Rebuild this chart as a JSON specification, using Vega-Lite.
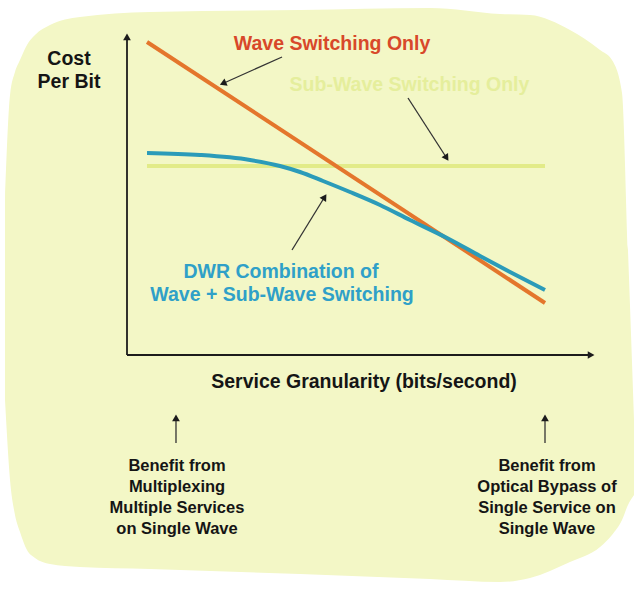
{
  "$schema": "https://vega.github.io/schema/vega-lite/v6.json",
  "width": 640,
  "height": 589,
  "autosize": {"type": "fit", "contains": "padding"},
  "padding": 0,
  "background": "#ffffff",
  "config": {"view": {"stroke": null}},
  "datasets": {
    "blob": [
      {"x": -26.52, "y": 48.44, "y2": -14.06},
      {"x": -25.43, "y": 81.25, "y2": -39.06},
      {"x": -24.35, "y": 88.44, "y2": -50.0},
      {"x": -23.26, "y": 92.19, "y2": -55.31},
      {"x": -21.74, "y": 96.88, "y2": -60.94},
      {"x": -20.0, "y": 100.0, "y2": -63.44},
      {"x": -16.74, "y": 103.13, "y2": -65.31},
      {"x": -10.22, "y": 105.63, "y2": -66.25},
      {"x": 5.0, "y": 107.19, "y2": -66.88},
      {"x": 37.61, "y": 107.81, "y2": -68.44},
      {"x": 65.87, "y": 108.44, "y2": -70.0},
      {"x": 81.09, "y": 106.56, "y2": -70.94},
      {"x": 87.61, "y": 106.25, "y2": -69.69},
      {"x": 96.3, "y": 101.56, "y2": -64.69},
      {"x": 102.83, "y": 95.31, "y2": -60.0},
      {"x": 105.43, "y": 92.19, "y2": -56.25},
      {"x": 107.61, "y": 81.88, "y2": -51.56},
      {"x": 108.91, "y": 32.81, "y2": -46.88},
      {"x": 110.22, "y": -20.31, "y2": -43.75}
    ],
    "curves": [
      {"series": "Sub-Wave Switching Only", "x": 4.35, "y": 59.06},
      {"series": "Sub-Wave Switching Only", "x": 90.87, "y": 59.06},
      {"series": "Wave Switching Only", "x": 4.35, "y": 97.81},
      {"series": "Wave Switching Only", "x": 90.87, "y": 16.25},
      {"series": "DWR Combination", "x": 4.35, "y": 63.13},
      {"series": "DWR Combination", "x": 15.87, "y": 62.5},
      {"series": "DWR Combination", "x": 26.74, "y": 60.94},
      {"series": "DWR Combination", "x": 33.26, "y": 59.06},
      {"series": "DWR Combination", "x": 37.61, "y": 57.19},
      {"series": "DWR Combination", "x": 42.61, "y": 54.38},
      {"series": "DWR Combination", "x": 48.48, "y": 50.94},
      {"series": "DWR Combination", "x": 55.0, "y": 46.88},
      {"series": "DWR Combination", "x": 61.52, "y": 42.19},
      {"series": "DWR Combination", "x": 69.57, "y": 36.56},
      {"series": "DWR Combination", "x": 76.74, "y": 30.94},
      {"series": "DWR Combination", "x": 83.26, "y": 25.94},
      {"series": "DWR Combination", "x": 90.87, "y": 20.31}
    ],
    "axes": [
      {"name": "Cost Per Bit", "x": 0, "y": 0, "x2": 0, "y2": 99.06},
      {"name": "Service Granularity", "x": 0, "y": 0, "x2": 100.65, "y2": 0}
    ],
    "pointers": [
      {"name": "to wave", "x": 33.7, "y": 93.13, "x2": 21.09, "y2": 85.0},
      {"name": "to sub-wave", "x": 61.09, "y": 80.31, "x2": 69.35, "y2": 61.88},
      {"name": "to dwr", "x": 35.87, "y": 32.81, "x2": 42.83, "y2": 49.06},
      {"name": "multiplexing", "x": 10.65, "y": -27.5, "x2": 10.65, "y2": -20.31},
      {"name": "bypass", "x": 90.87, "y": -27.5, "x2": 90.87, "y2": -20.31}
    ],
    "heads": [
      {"name": "Cost Per Bit", "x": 0, "y": 99.06, "heading": 0},
      {"name": "Service Granularity", "x": 100.65, "y": 0, "heading": 90},
      {"name": "to wave", "x": 21.09, "y": 85.0, "heading": 246},
      {"name": "to sub-wave", "x": 69.35, "y": 61.88, "heading": 147},
      {"name": "to dwr", "x": 42.83, "y": 49.06, "heading": 32},
      {"name": "multiplexing", "x": 10.65, "y": -20.0, "heading": 0},
      {"name": "bypass", "x": 90.87, "y": -20.0, "heading": 0}
    ],
    "labels": [
      {"text": "Cost", "x": -12.61, "y": 90.63, "tone": "ink"},
      {"text": "Per Bit", "x": -12.61, "y": 83.44, "tone": "ink"},
      {"text": "Wave Switching Only", "x": 44.57, "y": 95.31, "tone": "wave"},
      {"text": "Sub-Wave Switching Only", "x": 61.41, "y": 82.5, "tone": "sub"},
      {"text": "DWR Combination of", "x": 33.48, "y": 24.06, "tone": "dwr"},
      {"text": "Wave + Sub-Wave Switching", "x": 33.7, "y": 16.88, "tone": "dwr"},
      {"text": "Service Granularity (bits/second)", "x": 51.52, "y": -10.31, "tone": "ink"}
    ],
    "notes": [
      {"text": "Benefit from", "x": 10.87, "y": -36.25},
      {"text": "Multiplexing", "x": 10.87, "y": -42.81},
      {"text": "Multiple Services", "x": 10.87, "y": -49.38},
      {"text": "on Single Wave", "x": 10.87, "y": -55.94},
      {"text": "Benefit from", "x": 91.3, "y": -36.25},
      {"text": "Optical Bypass of", "x": 91.3, "y": -42.81},
      {"text": "Single Service on", "x": 91.3, "y": -49.38},
      {"text": "Single Wave", "x": 91.3, "y": -55.94}
    ]
  },
  "encoding": {
    "x": {"field": "x", "type": "quantitative", "scale": {"domain": [-27.609, 111.522], "nice": false, "zero": false}, "axis": null},
    "y": {"field": "y", "type": "quantitative", "scale": {"domain": [-73.125, 110.9375], "nice": false, "zero": false}, "axis": null}
  },
  "layer": [
    {
      "data": {"name": "blob"},
      "mark": {"type": "area", "color": "#f3f7c6", "interpolate": "monotone"},
      "encoding": {"y2": {"field": "y2"}}
    },
    {
      "data": {"name": "curves"},
      "mark": {"type": "line", "strokeWidth": 4, "interpolate": "monotone", "strokeCap": "butt"},
      "encoding": {
        "color": {"field": "series", "type": "nominal", "legend": null,
          "scale": {"domain": ["Sub-Wave Switching Only", "Wave Switching Only", "DWR Combination"], "range": ["#e2eb88", "#e4762c", "#2b9bb9"]}}
      }
    },
    {
      "data": {"name": "axes"},
      "mark": {"type": "rule", "color": "#1c1c1c", "strokeWidth": 1.8},
      "encoding": {"x2": {"field": "x2"}, "y2": {"field": "y2"}}
    },
    {
      "data": {"name": "pointers"},
      "mark": {"type": "rule", "color": "#333333", "strokeWidth": 1.3},
      "encoding": {"x2": {"field": "x2"}, "y2": {"field": "y2"}}
    },
    {
      "data": {"name": "heads"},
      "mark": {"type": "point", "shape": "triangle", "filled": true, "color": "#1c1c1c", "opacity": 1, "size": 60},
      "encoding": {"angle": {"field": "heading", "type": "quantitative", "scale": null}}
    },
    {
      "data": {"name": "labels"},
      "mark": {"type": "text", "font": "Liberation Sans", "fontWeight": "bold", "fontSize": 19.5, "align": "center", "baseline": "alphabetic"},
      "encoding": {
        "text": {"field": "text"},
        "color": {"field": "tone", "type": "nominal", "legend": null,
          "scale": {"domain": ["ink", "wave", "sub", "dwr"], "range": ["#151515", "#d8482a", "#e5ee9c", "#2fa0c8"]}}
      }
    },
    {
      "data": {"name": "notes"},
      "mark": {"type": "text", "font": "Liberation Sans", "fontWeight": "bold", "fontSize": 16.5, "align": "center", "baseline": "alphabetic", "color": "#151515"},
      "encoding": {"text": {"field": "text"}}
    }
  ],
  "resolve": {"scale": {"color": "independent"}}
}
